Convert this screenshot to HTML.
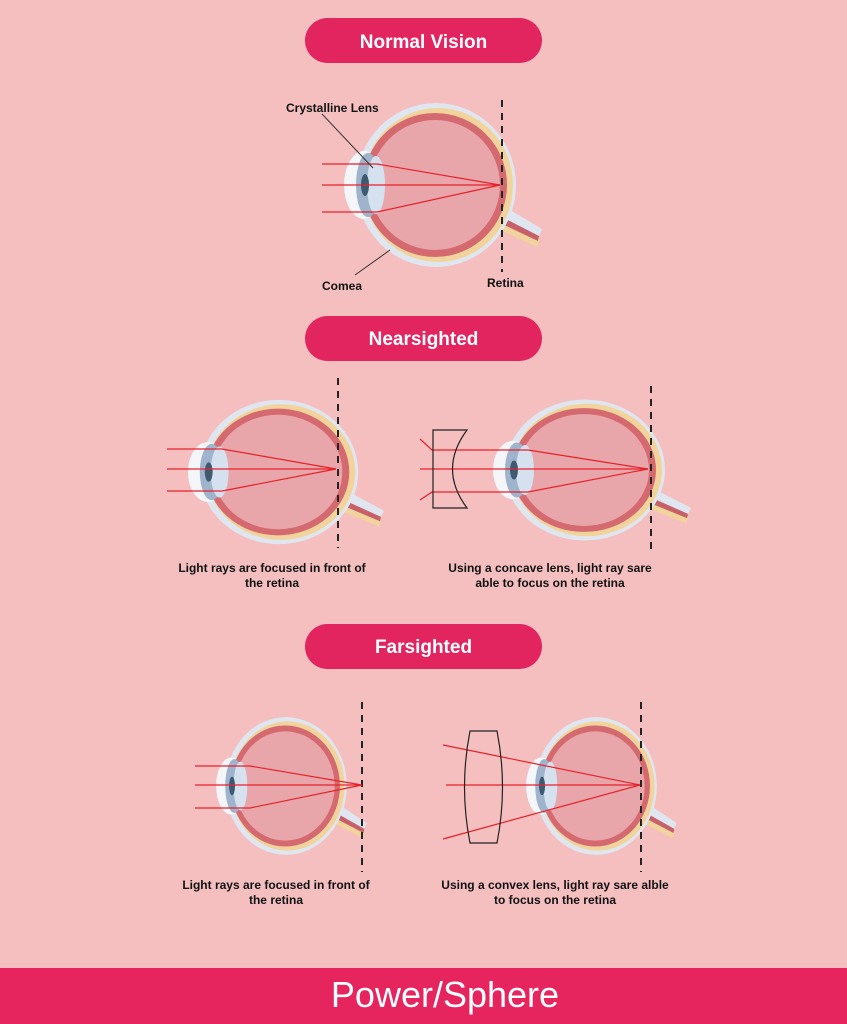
<!DOCTYPE html>
<html><head><meta charset="utf-8"><style>
body{margin:0;width:847px;height:1024px;background:#f5bfbf;overflow:hidden;font-family:"Liberation Sans",sans-serif}
svg{position:absolute;left:0;top:0}
</style></head><body>
<svg width="847" height="1024" viewBox="0 0 847 1024" xmlns="http://www.w3.org/2000/svg">
<defs>
<g id="eye">
  <path d="M58,34 L100,58 L106,44 L66,20 Z" fill="#dfe6f0"/>
  <path d="M58,42 L101,62 L104,54 L62,32 Z" fill="#f2d39c"/>
  <path d="M60,36 L102,56 L103,51 L62,30 Z" fill="#c8606a"/>
  <ellipse cx="0" cy="0" rx="80" ry="82" fill="#dfe6f0"/>
  <ellipse cx="-72" cy="0" rx="20" ry="34" fill="#f4f6fa"/>
  <ellipse cx="2" cy="0" rx="75" ry="77" fill="#f2d39c"/>
  <circle cx="-1" cy="0" r="72" fill="#d46a70"/>
  <circle cx="-1" cy="0" r="65" fill="#e8a6aa"/>
  <ellipse cx="-68" cy="0" rx="12" ry="32" fill="#9fb4cc"/>
  <ellipse cx="-60" cy="0" rx="9" ry="29" fill="#d6e1f0"/>
  <ellipse cx="-71" cy="0" rx="4" ry="11" fill="#3d5a70"/>
</g>
</defs>
<rect width="847" height="1024" fill="#f5bfbf"/>
<rect x="305" y="18" width="237" height="45" rx="22.5" fill="#e2245f"/>
<text x="423.5" y="48" text-anchor="middle" font-size="19" font-weight="bold" fill="#fff">Normal Vision</text>
<rect x="305" y="316" width="237" height="45" rx="22.5" fill="#e2245f"/>
<text x="423.5" y="345" text-anchor="middle" font-size="19" font-weight="bold" fill="#fff">Nearsighted</text>
<rect x="305" y="624" width="237" height="45" rx="22.5" fill="#e2245f"/>
<text x="423.5" y="653" text-anchor="middle" font-size="19" font-weight="bold" fill="#fff">Farsighted</text>
<rect x="0" y="968" width="847" height="56" fill="#e6245e"/>
<text x="445" y="1007" text-anchor="middle" font-size="36" fill="#fff">Power/Sphere</text>

<use href="#eye" transform="translate(436,185) scale(1)"/>
<use href="#eye" transform="translate(279,472) scale(0.99,0.88)"/>
<use href="#eye" transform="translate(585,470) scale(1,0.86)"/>
<use href="#eye" transform="translate(286,786) scale(0.76,0.84)"/>
<use href="#eye" transform="translate(596,786) scale(0.76,0.84)"/>

<g stroke="#222" stroke-width="2" stroke-dasharray="7,6">
<line x1="502" y1="100" x2="502" y2="272"/>
<line x1="338" y1="378" x2="338" y2="548"/>
<line x1="651" y1="386" x2="651" y2="555"/>
<line x1="362" y1="702" x2="362" y2="872"/>
<line x1="641" y1="702" x2="641" y2="872"/>
</g>

<g stroke="#e8202a" stroke-width="1.2" fill="none">
<polyline points="322,164 377,164 500,185"/><line x1="322" y1="185" x2="500" y2="185"/><polyline points="322,212 377,212 500,185"/>
<polyline points="167,449 222,449 336,469"/><line x1="167" y1="469" x2="336" y2="469"/><polyline points="167,491 222,491 336,469"/>
<polyline points="420,439 432,450 528,450 648,469"/><line x1="420" y1="469" x2="648" y2="469"/><polyline points="420,500 432,492 528,492 648,469"/>
<polyline points="195,766 250,766 362,785"/><line x1="195" y1="785" x2="362" y2="785"/><polyline points="195,808 250,808 362,785"/>
<line x1="443" y1="745" x2="640" y2="785"/><line x1="446" y1="785" x2="640" y2="785"/><line x1="443" y1="839" x2="640" y2="785"/>
</g>
<line x1="322" y1="114" x2="373" y2="168" stroke="#333" stroke-width="1"/>
<line x1="355" y1="275" x2="390" y2="250" stroke="#333" stroke-width="1"/>
<text x="286" y="112" font-size="12" font-weight="bold" fill="#111">Crystalline Lens</text>
<text x="322" y="290" font-size="12" font-weight="bold" fill="#111">Comea</text>
<text x="487" y="287" font-size="12" font-weight="bold" fill="#111">Retina</text>

<path d="M433,430 L467,430 Q438,469 467,508 L433,508 Z" fill="none" stroke="#222" stroke-width="1.2"/>
<text x="272" y="572" text-anchor="middle" font-size="12" font-weight="bold" fill="#111">Light rays are focused in front of</text>
<text x="272" y="587" text-anchor="middle" font-size="12" font-weight="bold" fill="#111">the retina</text>
<text x="550" y="572" text-anchor="middle" font-size="12" font-weight="bold" fill="#111">Using a concave lens, light ray sare</text>
<text x="550" y="587" text-anchor="middle" font-size="12" font-weight="bold" fill="#111">able to focus on the retina</text>

<path d="M470,731 L497,731 Q508,787 497,843 L470,843 Q459,787 470,731 Z" fill="none" stroke="#222" stroke-width="1.2"/>
<text x="276" y="889" text-anchor="middle" font-size="12" font-weight="bold" fill="#111">Light rays are focused in front of</text>
<text x="276" y="904" text-anchor="middle" font-size="12" font-weight="bold" fill="#111">the retina</text>
<text x="555" y="889" text-anchor="middle" font-size="12" font-weight="bold" fill="#111">Using a convex lens, light ray sare alble</text>
<text x="555" y="904" text-anchor="middle" font-size="12" font-weight="bold" fill="#111">to focus on the retina</text>
</svg>
</body></html>
